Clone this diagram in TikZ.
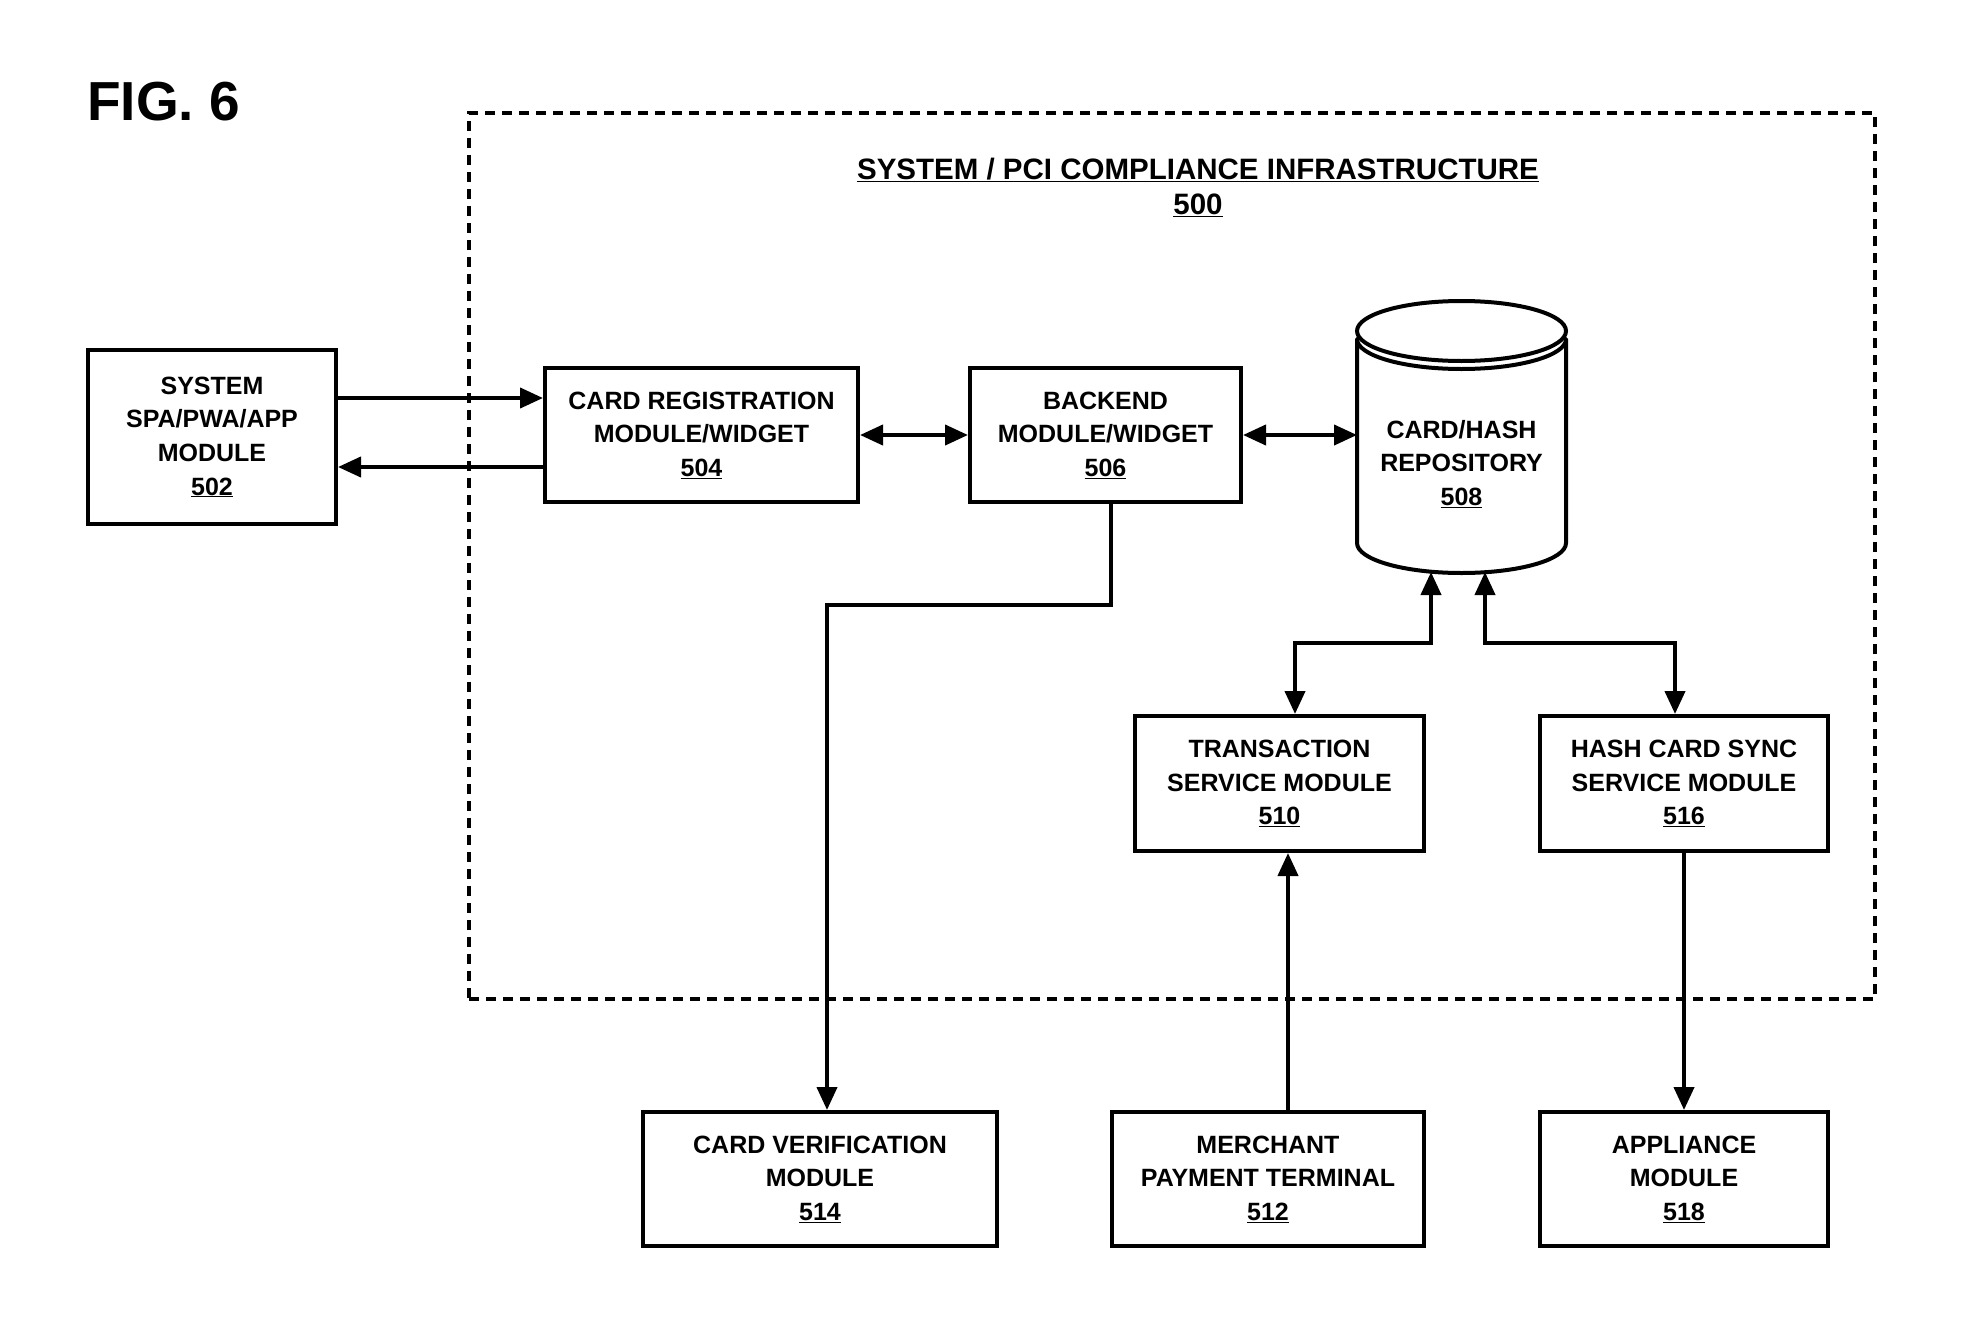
\documentclass[tikz,border=0pt]{standalone}
\usepackage{fontspec}
\setmainfont{Liberation Sans}
\usetikzlibrary{arrows.meta,calc}
\begin{document}
\begin{tikzpicture}[x=1pt,y=-1pt,
  lbl/.style={align=center,font=\bfseries\fontsize{25}{33.6}\selectfont,inner sep=0pt},
  box/.style={lbl,draw,line width=4pt},
  arr/.style={line width=4pt,-{Triangle[length=23pt,width=20pt]}},
  darr/.style={line width=4pt,{Triangle[length=23pt,width=20pt]}-{Triangle[length=23pt,width=20pt]}},
]
\useasboundingbox[fill=white] (0,0) rectangle (1988,1330);

% title and container
\node[font=\bfseries\fontsize{55}{60}\selectfont,anchor=west,inner sep=0pt] (fig) at (87,102) {FIG. 6};
\node[draw,line width=3.5pt,dash pattern=on 10pt off 7pt,minimum width=1406pt,minimum height=886pt,inner sep=0pt] (infra) at (1172,556) {};
\node[align=center,font=\bfseries\fontsize{29.5}{35}\selectfont,inner sep=0pt] (title) at (1198,187)
  {\underline{SYSTEM / PCI COMPLIANCE INFRASTRUCTURE}\\\underline{500}};

% boxes
\node[box,minimum width=248pt,minimum height=174pt] (n502) at (212,437) {SYSTEM\\SPA/PWA/APP\\MODULE\\\underline{502}};
\node[box,minimum width=313pt,minimum height=134pt] (n504) at (701.5,435) {CARD REGISTRATION\\MODULE/WIDGET\\\underline{504}};
\node[box,minimum width=271pt,minimum height=134pt] (n506) at (1105.5,435) {BACKEND\\MODULE/WIDGET\\\underline{506}};
\node[box,minimum width=289pt,minimum height=135pt] (n510) at (1279.5,783.5) {TRANSACTION\\SERVICE MODULE\\\underline{510}};
\node[box,minimum width=288pt,minimum height=135pt] (n516) at (1684,783.5) {HASH CARD SYNC\\SERVICE MODULE\\\underline{516}};
\node[box,minimum width=354pt,minimum height=134pt] (n514) at (820,1179) {CARD VERIFICATION\\MODULE\\\underline{514}};
\node[box,minimum width=312pt,minimum height=134pt] (n512) at (1268,1179) {MERCHANT\\PAYMENT TERMINAL\\\underline{512}};
\node[box,minimum width=288pt,minimum height=134pt] (n518) at (1684,1179) {APPLIANCE\\MODULE\\\underline{518}};

% cylinder repository
\draw[line width=4pt] (1461.5,331) ellipse [x radius=104.5, y radius=30];
\draw[line width=4pt,line join=round] (1566,339) arc[start angle=0,end angle=180,x radius=104.5,y radius=30]
  -- (1357,543) arc[start angle=180,end angle=0,x radius=104.5,y radius=30] -- cycle;
\node[lbl] (repo) at (1461.5,464) {CARD/HASH\\REPOSITORY\\\underline{508}};
\coordinate (repoL) at (1357,435);
\coordinate (repoB1) at (1431,572);
\coordinate (repoB2) at (1485,572);

% connectors
\draw[arr] ([yshift=39pt]n502.east) -- ([yshift=37pt]n504.west);
\draw[arr] ([yshift=-32pt]n504.west) -- ([yshift=-30pt]n502.east);
\draw[darr] (n504.east) -- (n506.west);
\draw[darr] (n506.east) -- (repoL);
\draw[arr] ([xshift=5.5pt]n506.south) -- ++(0,101) -| ([xshift=7pt]n514.north);
\draw[darr] (repoB1) -- ++(0,71) -| ([xshift=15.5pt]n510.north);
\draw[darr] (repoB2) -- ++(0,71) -| ([xshift=-9pt]n516.north);
\draw[arr] ([xshift=20pt]n512.north) -- ([xshift=8.5pt]n510.south);
\draw[arr] (n516.south) -- (n518.north);
\end{tikzpicture}
\end{document}
